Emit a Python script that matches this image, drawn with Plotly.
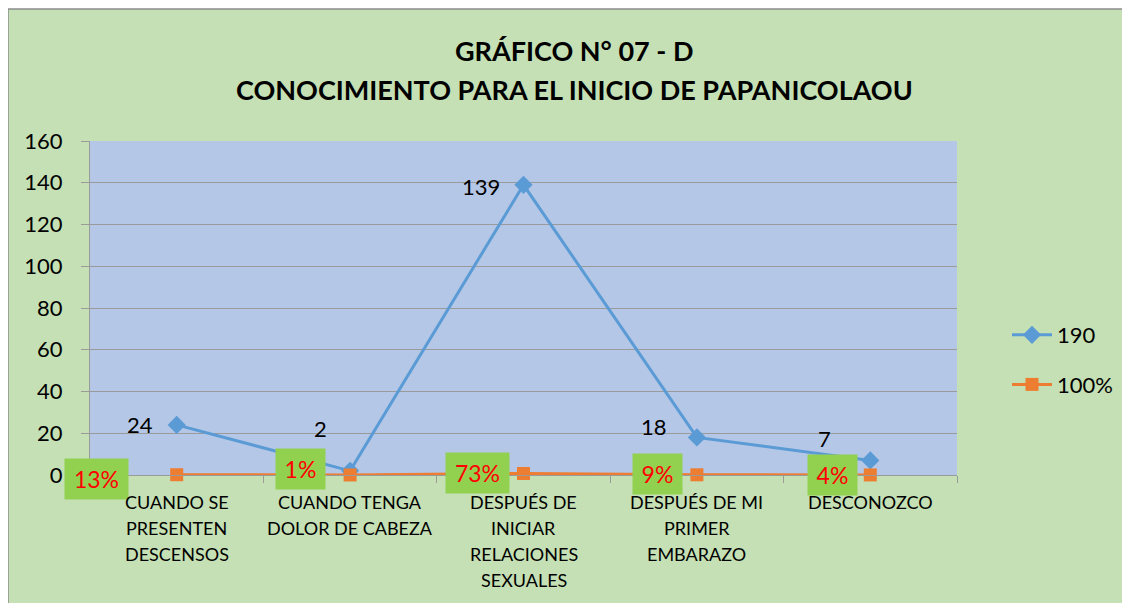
import plotly.graph_objects as go

categories = [
    "CUANDO SE<br>PRESENTEN<br>DESCENSOS",
    "CUANDO TENGA<br>DOLOR DE CABEZA",
    "DESPUÉS DE<br>INICIAR<br>RELACIONES<br>SEXUALES",
    "DESPUÉS DE MI<br>PRIMER<br>EMBARAZO",
    "DESCONOZCO",
]
counts = [24, 2, 139, 18, 7]
shares = [0.13, 0.01, 0.73, 0.09, 0.04]
series_names = ["190", "100%"]
y_ticks = [0, 20, 40, 60, 80, 100, 120, 140, 160]
title_lines = ["GRÁFICO N° 07 - D", "CONOCIMIENTO PARA EL INICIO DE PAPANICOLAOU"]

# label offsets (pixels) - styling only
count_label_shift = [(-37, 0), (-30, 42), (-43, -2), (-43, 11), (-46, 22)]
share_label_shift = [(-80, -4), (-50, 6), (-46, 0), (-39, 1), (-38, 0)]

FONT = "Lato"
BLUE = "#5B9BD5"
ORANGE = "#ED7D31"
GREEN_BG = "#C5E0B4"
PLOT_BG = "#B4C7E7"
GRID = "#9A9A9A"

# page has an 8px body margin; work in page pixels and convert
OFF = 8
W, H = 1130, 603
ml, mt = 90 - OFF, 141 - OFF
mr = W - (957 - OFF)
mb = H - (475 - OFF)
pw, ph = W - ml - mr, H - mt - mb

def px_x(p):
    return (p - OFF - ml) / pw

def px_y(p):
    return (H - mb - (p - OFF)) / ph

fig = go.Figure()
fig.add_trace(go.Scatter(
    x=categories, y=counts, name=series_names[0], mode="lines+markers",
    line=dict(color=BLUE, width=3),
    marker=dict(symbol="diamond", size=14, color=BLUE),
    legendgroup="a", cliponaxis=False,
))
fig.add_trace(go.Scatter(
    x=categories, y=shares, name=series_names[1], mode="lines+markers",
    line=dict(color=ORANGE, width=3),
    marker=dict(symbol="square", size=13, color=ORANGE),
    legendgroup="b", cliponaxis=False,
))

annotations = []
for c, v, (dx, dy) in zip(categories, counts, count_label_shift):
    annotations.append(dict(
        x=c, y=v, xref="x", yref="y", text=str(v), showarrow=False,
        xshift=dx, yshift=dy, font=dict(family=FONT, size=22, color="black"),
    ))
for c, v, (dx, dy) in zip(categories, shares, share_label_shift):
    txt = f"{round(v * 100)}%"
    annotations.append(dict(
        x=c, y=v, xref="x", yref="y", text=txt, showarrow=False,
        xshift=dx, yshift=dy, bgcolor="#92D050", borderpad=5,
        width=14 * len(txt) + 11, height=30,
        font=dict(family=FONT, size=23, color="#FF0000"),
    ))

# category labels, one line per annotation to match the line spacing
for c in categories:
    for i, line in enumerate(c.split("<br>")):
        annotations.append(dict(
            x=c, y=px_y(502 + 26 * i), xref="x", yref="paper",
            xanchor="center", yanchor="middle", text=line, showarrow=False,
            font=dict(family=FONT, size=18, color="black"),
        ))

annotations.append(dict(
    x=px_x(574), y=px_y(50), xref="paper", yref="paper", xanchor="center", yanchor="middle",
    text=f"<b>{title_lines[0]}</b>",
    showarrow=False, font=dict(family=FONT, size=27, color="black"),
))
annotations.append(dict(
    x=px_x(574), y=px_y(89), xref="paper", yref="paper", xanchor="center", yanchor="middle",
    text=f"<b>{title_lines[1]}</b>",
    showarrow=False, font=dict(family=FONT, size=27, color="black"),
))

shapes = [
    dict(type="rect", xref="paper", yref="paper", layer="below",
         x0=px_x(8), x1=px_x(1145), y0=px_y(620), y1=px_y(9),
         fillcolor=GREEN_BG, line=dict(color="#8C8C8C", width=1.5)),
    dict(type="rect", xref="paper", yref="paper", layer="below",
         x0=0, x1=1, y0=0, y1=1, fillcolor=PLOT_BG, line=dict(width=0)),
]

fig.update_layout(
    width=W, height=H,
    margin=dict(l=ml, r=mr, t=mt, b=mb, pad=0, autoexpand=False),
    paper_bgcolor="white", plot_bgcolor=PLOT_BG,
    font=dict(family=FONT, color="black"),
    showlegend=True,
    legend=dict(x=px_x(1007), y=px_y(360), xanchor="left", yanchor="middle",
                bgcolor="rgba(0,0,0,0)", font=dict(family=FONT, size=22),
                traceorder="grouped", tracegroupgap=18, itemwidth=40),
    annotations=annotations, shapes=shapes,
    hovermode=False,
)
fig.update_xaxes(
    type="category", range=[-0.5, 4.5], showgrid=False, automargin=False,
    showline=True, linecolor=GRID, linewidth=1, showticklabels=False,
    ticks="outside", tickson="boundaries", ticklen=7, tickcolor=GRID,
)
fig.update_yaxes(
    range=[0, 160], tickvals=y_ticks, showgrid=True, gridcolor=GRID, gridwidth=1,
    showline=True, linecolor=GRID, linewidth=1, zeroline=False, automargin=False,
    ticks="outside", ticklen=8, tickcolor=GRID,
    tickfont=dict(family=FONT, size=22, color="black"), ticklabelstandoff=14,
)

fig.write_html("out.html")
